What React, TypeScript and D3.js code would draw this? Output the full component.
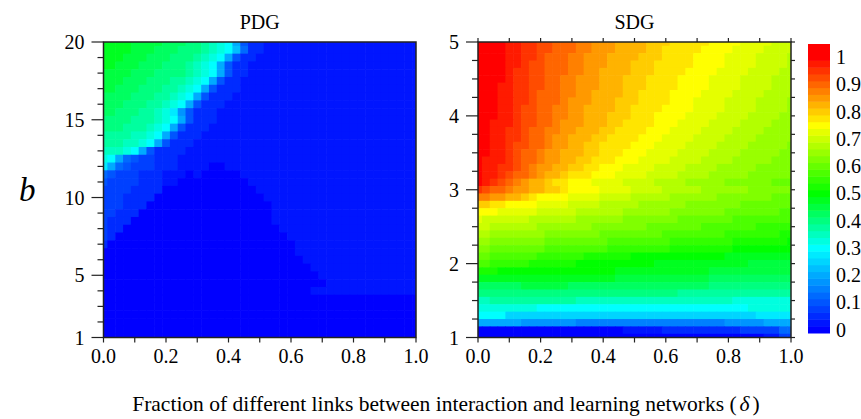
import React from 'react'
import * as d3 from 'd3'

// simulation grid: delta 0..1 (step 0.025), b listed from top row to bottom row
const deltas = d3.range(0, 41).map(i => +(i * 0.025).toFixed(4))
const pdgB = d3.range(0, 39).map(i => 20 - i * 0.5)
const sdgB = d3.range(0, 41).map(i => +(5 - i * 0.1).toFixed(2))

// cooperation level, one char per 0.025 step (0 -> 0, E -> 1)
const levelChars = '0123456789abcdefghijklmnopqrstuvwxyzABCDE'

// rows run-length coded: "char*count" (count 1 if omitted), 41 cells per row
const pdgRows = [
  'j*4 i*4 h*3 g*2 f e d c 8 4 2*2 1*20',
  'j*4 i*3 h*3 g*3 f e d c 9 5 2*2 1*20',
  'j*3 i*3 h*3 g*3 f e d c 8 4 2*2 1*21',
  'j*2 i*3 h*3 g*3 f e d c 8 4 2*2 1*22',
  'i*4 h*3 g*4 f e d c 8 4 2*2 1*22',
  'i*3 h*3 g*3 f*2 e d c 8 4 2*2 1*23',
  'i*2 h*3 g*3 f*2 e d c 8 4 2*3 1*23',
  'h*4 g*3 f*2 e d c 8 4 2*3 1*24',
  'h*3 g*3 f*2 e d c 8 4 2*3 1*25',
  'h*2 g*3 f*2 e d b 7 4 2*3 1*26',
  'g*4 f*3 e d c 8 4 2*3 1*26',
  'g*3 f*3 e d c 8 4 2*3 1*27',
  'f*4 e*2 d c 8 4 2*3 1*28',
  'f*3 e*2 d c 8 4 2*3 1*29',
  'e*3 d c 8 4 2*4 1*30',
  'd c 8 5 4 3*2 2*3 1*31',
  'b 8 5 4 3*3 2*3 1*4 0*2 1*25',
  '5 4 3*3 2*3 1*3 0 1 0*5 1*23',
  '4 3*4 2*3 1*2 0*9 1*22',
  '3*4 2*4 0*12 1*21',
  '3*3 2*4 0*14 1*20',
  '3*3 2*3 0*16 1*19',
  '3*2 2*3 0*17 1*19',
  '3 2*3 0*18 1*19',
  '3 2*2 0*20 1*18',
  '3 2 0*22 1*17',
  '2 0*24 1*16',
  '0*25 1*16',
  '0*26 1*15',
  '0*27 1*14',
  '0*28 1*13',
  '0*29 1*12',
  '0*27 1*14',
  '0*41',
  '0*41',
  '0*41',
  '0*41',
  '0*41',
  '0*41',
]

const sdgRows = [
  'E*4 D*2 C*2 B*2 A*3 z*2 y*3 x*4 w*3 v*5 u*4 t*4 s*3',
  'E*4 D*2 C*2 B*2 A*3 z*2 y*3 x*4 w*2 v*5 u*4 t*4 s*4',
  'E*4 D*2 C*2 B A*3 z*2 y*3 x*4 w*3 v*4 u*4 t*4 s*4 r',
  'E*4 D*2 C B*2 A*3 z*2 y*3 x*3 w*3 v*5 u*4 t*4 s*4 r',
  'E*4 D C*2 B*2 A*3 z*2 y*2 x*4 w*3 v*4 u*4 t*4 s*4 r*2',
  'E*4 D C*2 B*2 A*2 z*2 y*3 x*3 w*3 v*4 u*4 t*4 s*4 r*3',
  'E*3 D*2 C*2 B*2 A*2 z*2 y*3 x*3 w*3 v*4 u*4 t*4 s*4 r*3',
  'E*3 D*2 C*2 B A*3 z*2 y*2 x*4 w*2 v*4 u*4 t*4 s*4 r*4',
  'E*3 D*2 C*2 B A*3 z y*3 x*3 w*3 v*4 u*3 t*4 s*4 r*4 q',
  'E*3 D*2 C B*2 A*2 z*2 y*2 x*4 w*2 v*4 u*4 t*4 s*4 r*4 q',
  'E*3 D*2 C B*2 A*2 z*2 y*2 x*3 w*3 v*3 u*4 t*4 s*4 r*4 q*2',
  'E*2 D*3 C B*2 A*2 z y*3 x*3 w*2 v*4 u*3 t*4 s*4 r*4 q*3',
  'E*2 D*2 C*2 B A*2 z*2 y*2 x*3 w*2 v*4 u*3 t*4 s*4 r*4 q*4',
  'E*2 D*2 C*2 B A*2 z y*2 x*3 w*2 v*4 u*3 t*4 s*4 r*4 q*5',
  'E*2 D*2 C B*2 A*2 z y*2 x*2 w*2 v*4 u*3 t*4 s*4 r*4 q*5 p',
  'E*2 D*2 C B A*2 z y*2 x*3 w*2 v*3 u*3 t*4 s*4 r*4 q*5 p*2',
  'E D*3 C B A*2 z y*2 x*2 w*2 v*3 u*3 t*4 s*4 r*4 q*5 p*3',
  'E D*2 C*2 B A z y*2 x*2 w*2 v*2 u*3 t*4 s*4 r*4 q*5 p*5',
  'E D*2 C B A*2 z y x*2 w v*3 u*3 t*4 s*4 r*4 q*5 p*6',
  'E D C B A z y x*2 w v*2 u*3 t*4 s*4 r*4 q*5 p*6 o*3',
  'C B A*2 z y*2 x*2 w*2 v u*4 t*4 s*4 r*5 q*6 p*6',
  'z*2 y*2 x*2 w v u*4 t*4 s*4 r*5 q*6 p*7 o*3',
  'w*2 v*2 u*4 t*4 s*4 r*5 q*6 p*7 o*7',
  'u*3 t*5 s*5 r*6 q*6 p*7 o*7 n*2',
  't s*6 r*6 q*6 p*7 o*7 n*8',
  's*2 r*6 q*7 p*7 o*7 n*7 m*5',
  'r*2 q*7 p*7 o*8 n*8 m*7 l*2',
  'q*2 p*7 o*8 n*8 m*8 l*7 k',
  'p*2 o*7 n*8 m*8 l*8 k*8',
  'o*2 n*6 m*6 l*6 k*12 j*9',
  'n*2 m*5 l*6 k*10 j*12 i*6',
  'l*3 k*15 j*12 i*11',
  'j*18 i*12 h*11',
  'h*6 i*6 h*18 g*11',
  'g*26 f*15',
  'e*2 f*11 e*20 d*8',
  'd*8 c*27 d*6',
  'c*4 a*32 b*5',
  '8*6 7*7 6*19 7*5 8*4',
  '0*19 1*5 2*10 3*5 5*2',
  '0*37 1*2 3*2',
]

const xTickLabels = [0, 0.2, 0.4, 0.6, 0.8, 1]
const pdgYTicks = [1, 5, 10, 15, 20]
const sdgYTicks = [1, 2, 3, 4, 5]
const barTicks = [0, 0.1, 0.2, 0.3, 0.4, 0.5, 0.6, 0.7, 0.8, 0.9, 1]

const decode = (row: string): number[] => {
  const out: number[] = []
  row.split(' ').forEach(tok => {
    const n = tok.length > 1 ? +tok.slice(2) : 1
    const v = levelChars.indexOf(tok[0]) / 40
    for (let k = 0; k < n; k++) out.push(v)
  })
  return out
}

const color = d3.scaleLinear<string>()
  .domain([0, 0.3, 0.5, 0.75, 1])
  .range(['#0000ff', '#00ffff', '#00ff00', '#ffff00', '#ff0000'])
  .clamp(true)

const FONT = "'Liberation Serif', 'Times New Roman', serif"
const TICK_SIZE = 20

type PanelProps = {
  id: string
  left: number
  right: number
  top: number
  bottom: number
  bMin: number
  bMax: number
  bVals: number[]
  rows: string[]
  yTicks: number[]
  yMinorStep: number
  title: string
  allSides: boolean
}

const Panel = (p: PanelProps) => {
  const x = d3.scaleLinear().domain([0, 1]).range([p.left, p.right])
  const y = d3.scaleLinear().domain([p.bMin, p.bMax]).range([p.bottom, p.top])
  const hx = 0.0125
  const hb = (p.bVals[0] - p.bVals[1]) / 2
  const minorX = d3.range(0, 11).map(i => i / 10)
  const minorY = d3.range(0, Math.round((p.bMax - p.bMin) / p.yMinorStep) + 1)
    .map(i => p.bMin + i * p.yMinorStep)
  const fmt = d3.format('.1f')

  return (
    <g>
      <defs>
        <clipPath id={p.id}>
          <rect x={p.left} y={p.top} width={p.right - p.left} height={p.bottom - p.top} />
        </clipPath>
      </defs>
      <g clipPath={`url(#${p.id})`}>
        {p.rows.map((row, i) => {
          const vals = decode(row)
          const b = p.bVals[i]
          const ya = y(b + hb)
          const yb = y(b - hb)
          return vals.map((v, j) => {
            const xa = x(deltas[j] - hx)
            const xb = x(deltas[j] + hx)
            return (
              <rect key={`${i}-${j}`} x={xa} y={ya} width={xb - xa + 0.6}
                height={yb - ya + 0.6} fill={color(v)} />
            )
          })
        })}
      </g>
      <rect x={p.left} y={p.top} width={p.right - p.left} height={p.bottom - p.top}
        fill="none" stroke="#222" strokeWidth={1.5} />
      {minorX.map(t => (
        <line key={`xb${t}`} x1={x(t)} x2={x(t)} y1={p.bottom} y2={p.bottom + 5}
          stroke="#222" strokeWidth={1.2} />
      ))}
      {p.allSides && minorX.map(t => (
        <line key={`xt${t}`} x1={x(t)} x2={x(t)} y1={p.top} y2={p.top - 4}
          stroke="#222" strokeWidth={1.2} />
      ))}
      {minorY.map(t => {
        const major = p.yTicks.includes(t)
        return (
          <line key={`yl${t}`} x1={p.left} x2={p.left - (major ? 12 : 6)} y1={y(t)} y2={y(t)}
            stroke="#222" strokeWidth={1.2} />
        )
      })}
      {p.allSides && minorY.map(t => (
        <line key={`yr${t}`} x1={p.right} x2={p.right + 4} y1={y(t)} y2={y(t)}
          stroke="#222" strokeWidth={1.2} />
      ))}
      {xTickLabels.map(t => (
        <text key={`xl${t}`} x={x(t)} y={p.bottom + 25} textAnchor="middle"
          fontFamily={FONT} fontSize={TICK_SIZE}>{fmt(t)}</text>
      ))}
      {p.yTicks.map(t => (
        <text key={`ylab${t}`} x={p.left - 19} y={y(t)} dy="0.35em" textAnchor="end"
          fontFamily={FONT} fontSize={TICK_SIZE}>{t}</text>
      ))}
      <text x={(p.left + p.right) / 2} y={29} textAnchor="middle" fontFamily={FONT}
        fontSize={20}>{p.title}</text>
    </g>
  )
}

const ColorBar = () => {
  const barTop = 44
  const barBottom = 333
  const yb = d3.scaleLinear().domain([0, 1]).range([329.5, 57])
  const levels = d3.range(0, 41)
  const half = 1 / 80
  return (
    <g>
      {levels.map(L => {
        const v = L / 40
        const ya = L === 40 ? barTop : yb(v + half)
        const yz = L === 0 ? barBottom : yb(v - half)
        return <rect key={L} x={808} y={ya} width={22} height={yz - ya + 0.5} fill={color(v)} />
      })}
      {barTicks.map(t => (
        <text key={t} x={836} y={yb(t)} dy="0.35em" fontFamily={FONT} fontSize={TICK_SIZE}>
          {String(t)}
        </text>
      ))}
    </g>
  )
}

export default function App() {
  return (
    <svg width={861} height={419} style={{ position: 'absolute', left: 0, top: 0, background: '#fff' }}>
      <rect width={861} height={419} fill="#fff" />
      <Panel id="clipPdg" left={103.5} right={416} top={42} bottom={337.5} bMin={1} bMax={20}
        bVals={pdgB} rows={pdgRows} yTicks={pdgYTicks} yMinorStep={1} title="PDG" allSides={false} />
      <Panel id="clipSdg" left={478} right={791} top={42} bottom={337.5} bMin={1} bMax={5}
        bVals={sdgB} rows={sdgRows} yTicks={sdgYTicks} yMinorStep={0.25} title="SDG" allSides={true} />
      <ColorBar />
      <text x={19} y={201} fontFamily={FONT} fontStyle="italic" fontSize={33}>b</text>
      <text x={446} y={411} textAnchor="middle" fontFamily={FONT} fontSize={21.5}>
        Fraction of different links between interaction and learning networks (
        <tspan fontStyle="italic" dx={3}>δ</tspan>
        <tspan dx={3}>)</tspan>
      </text>
    </svg>
  )
}
